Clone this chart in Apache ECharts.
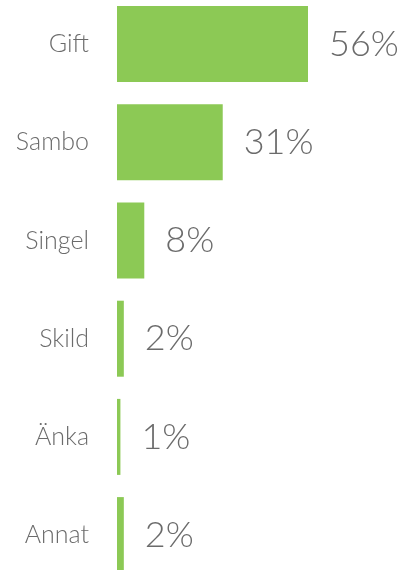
<!DOCTYPE html>
<html>
<head>
<meta charset="utf-8">
<script src="https://cdn.jsdelivr.net/npm/echarts@6/dist/echarts.min.js"></script>
<style>
  html, body { margin: 0; padding: 0; background: #fff; overflow: hidden; }
  #chart { position: absolute; left: 0; top: -5px; width: 400px; height: 600px; }
</style>
</head>
<body>
<div id="chart"></div>
<script>
// civilstånd
var categories = ['Gift', 'Sambo', 'Singel', 'Skild', 'Änka', 'Annat'];
var values = [56, 31, 8, 2, 1, 2];

var chart = echarts.init(document.getElementById('chart'));
chart.setOption({
  animation: false,
  grid: {
    left: 117,
    width: 238.75,
    top: 0,
    height: 589.2,
    containLabel: false
  },
  xAxis: {
    type: 'value',
    min: 0,
    max: 70,
    show: false
  },
  yAxis: {
    type: 'category',
    inverse: true,
    data: categories,
    axisLine: {show: false},
    axisTick: {show: false},
    splitLine: {show: false},
    axisLabel: {
      margin: 28,
      color: '#6b6b6b',
      fontSize: 25,
      fontFamily: 'Lato',
      fontWeight: 300,
      padding: [6, 0, 0, 0]
    }
  },
  series: [{
    type: 'bar',
    data: values,
    barWidth: 76,
    itemStyle: {color: '#8cc955'},
    label: {
      show: true,
      position: 'right',
      distance: 21,
      formatter: '{c}%',
      color: '#6b6b6b',
      fontSize: 36,
      fontFamily: 'Lato',
      fontWeight: 300,
      padding: [3, 0, 0, 0]
    }
  }]
});
</script>
</body>
</html>
